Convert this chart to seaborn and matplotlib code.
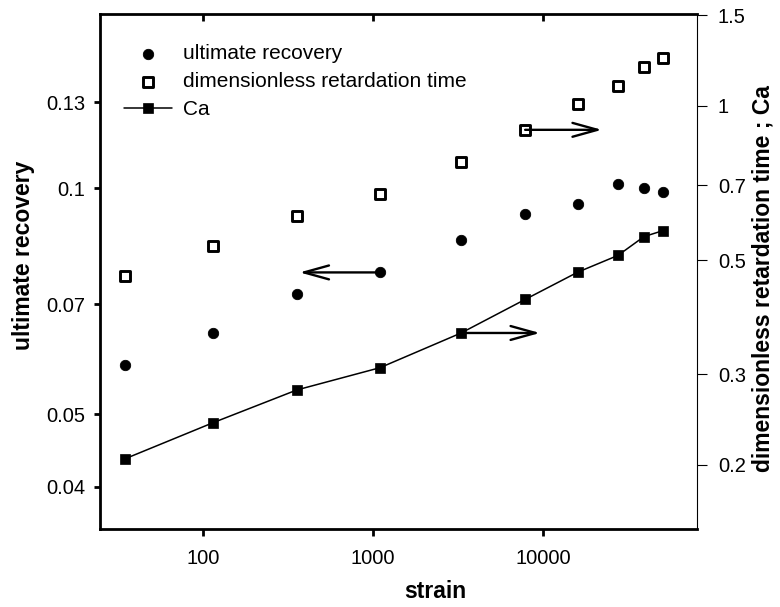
import numpy as np
import matplotlib
matplotlib.use("Agg")
import matplotlib.pyplot as plt
from matplotlib.ticker import NullLocator
import seaborn as sns

# data
strain = [35, 115, 357, 1100, 3300, 7850, 16000, 27600, 39300, 50800]
recovery = [0.0581, 0.0642, 0.0722, 0.0772, 0.0853, 0.0923, 0.0953, 0.1011, 0.1001, 0.0987]
retard_time = [0.466, 0.532, 0.610, 0.674, 0.778, 0.897, 1.006, 1.092, 1.186, 1.236]
ca = [0.2056, 0.2416, 0.2797, 0.309, 0.361, 0.4195, 0.474, 0.511, 0.556, 0.571]

left_ticks = [0.04, 0.05, 0.07, 0.1, 0.13]
left_labels = ["0.04", "0.05", "0.07", "0.1", "0.13"]
right_ticks = [0.2, 0.3, 0.5, 0.7, 1, 1.5]
right_labels = ["0.2", "0.3", "0.5", "0.7", "1", "1.5"]
x_ticks = [100, 1000, 10000]
x_labels = ["100", "1000", "10000"]

sns.set_style("ticks")
plt.rcParams['font.family'] = ['Liberation Sans', 'DejaVu Sans']
plt.rcParams.update({'text.color': 'black', 'axes.labelcolor': 'black',
                     'xtick.color': 'black', 'ytick.color': 'black',
                     'axes.edgecolor': 'black'})

fig = plt.figure(figsize=(7.8, 6.07), dpi=100)
ax = fig.add_axes([0.1282, 0.1285, 0.7654, 0.8484])
ax2 = ax.twinx()

sns.scatterplot(x=strain, y=recovery, ax=ax, marker='o', color='black',
                edgecolor='black', s=56, label='ultimate recovery')
sns.scatterplot(x=strain, y=retard_time, ax=ax2, marker='s', facecolor='white',
                edgecolor='black', linewidth=2.1, s=48,
                label='dimensionless retardation time')
sns.lineplot(x=strain, y=ca, ax=ax2, color='black', marker='s', markersize=7,
             markeredgecolor='black', markeredgewidth=0.5, linewidth=1.1, label='Ca')

for a in (ax, ax2):
    if a.get_legend() is not None:
        a.get_legend().remove()

ax.set_xscale('log')
ax.set_yscale('log')
ax2.set_yscale('log')
ax.set_xlim(24.8, 80500)
ax.set_ylim(0.03515, 0.1705)
ax2.set_ylim(0.150, 1.507)

ax.set_xticks(x_ticks, labels=x_labels)
ax.set_yticks(left_ticks, labels=left_labels)
ax2.set_yticks(right_ticks, labels=right_labels)
ax.xaxis.set_minor_locator(NullLocator())
ax.yaxis.set_minor_locator(NullLocator())
ax2.yaxis.set_minor_locator(NullLocator())

# spines: heavy left/bottom/top, thin right
for s in ('left', 'bottom', 'top'):
    ax.spines[s].set_linewidth(2)
    ax.spines[s].set_color('black')
ax.spines['right'].set_visible(False)
for s in ('left', 'bottom', 'top'):
    ax2.spines[s].set_visible(False)
ax2.spines['right'].set_linewidth(0.8)
ax2.spines['right'].set_color('black')

ax.tick_params(axis='x', direction='out', length=5, width=2, pad=9.5,
               labelsize=14.5, colors='black')
ax.tick_params(axis='y', direction='out', length=4.5, width=2, pad=6,
               labelsize=14.5, colors='black')
ax2.tick_params(axis='y', direction='out', length=7, width=0.8, pad=8,
                labelsize=14.5, colors='black')
# top ticks pointing inward
ax2.xaxis.set_visible(True)
ax2.tick_params(axis='x', bottom=False, top=True, labelbottom=False, labeltop=False,
                direction='in', length=5, width=2, colors='black')

ax.set_xlabel('strain', fontsize=16.5, fontweight='bold')
ax.set_ylabel('ultimate recovery', fontsize=16.5, fontweight='bold')
ax2.set_ylabel('dimensionless retardation time ; Ca', fontsize=16.5, fontweight='bold')
ax.xaxis.set_label_coords(0.561, -0.122)
ax.xaxis.label.set_va('center')
ax.yaxis.set_label_coords(-0.128, 0.532)
ax.yaxis.label.set_va('center')
ax2.yaxis.set_label_coords(1.1106, 0.487)
ax2.yaxis.label.set_va('center')

# arrows pointing to the axis each series belongs to
arrow_kw = dict(arrowstyle='->,head_length=1.8,head_width=0.5', color='black',
                lw=1.7, shrinkA=0, shrinkB=0, mutation_scale=10)
ax.annotate('', xy=(370, recovery[3]), xytext=(strain[3], recovery[3]),
            arrowprops=arrow_kw)
ax2.annotate('', xy=(9600, ca[4]), xytext=(strain[4], ca[4]),
             arrowprops=arrow_kw)
ax2.annotate('', xy=(22200, retard_time[5]), xytext=(strain[5], retard_time[5]),
             arrowprops=arrow_kw)

h1, l1 = ax.get_legend_handles_labels()
h2, l2 = ax2.get_legend_handles_labels()
ax2.legend(h1 + h2, l1 + l2, loc='upper left', bbox_to_anchor=(0.040, 0.941),
           frameon=False, fontsize=15, handlelength=2.3, handletextpad=0.53,
           labelspacing=0.42, borderpad=0, borderaxespad=0)

fig.savefig('out.png', dpi=100)
